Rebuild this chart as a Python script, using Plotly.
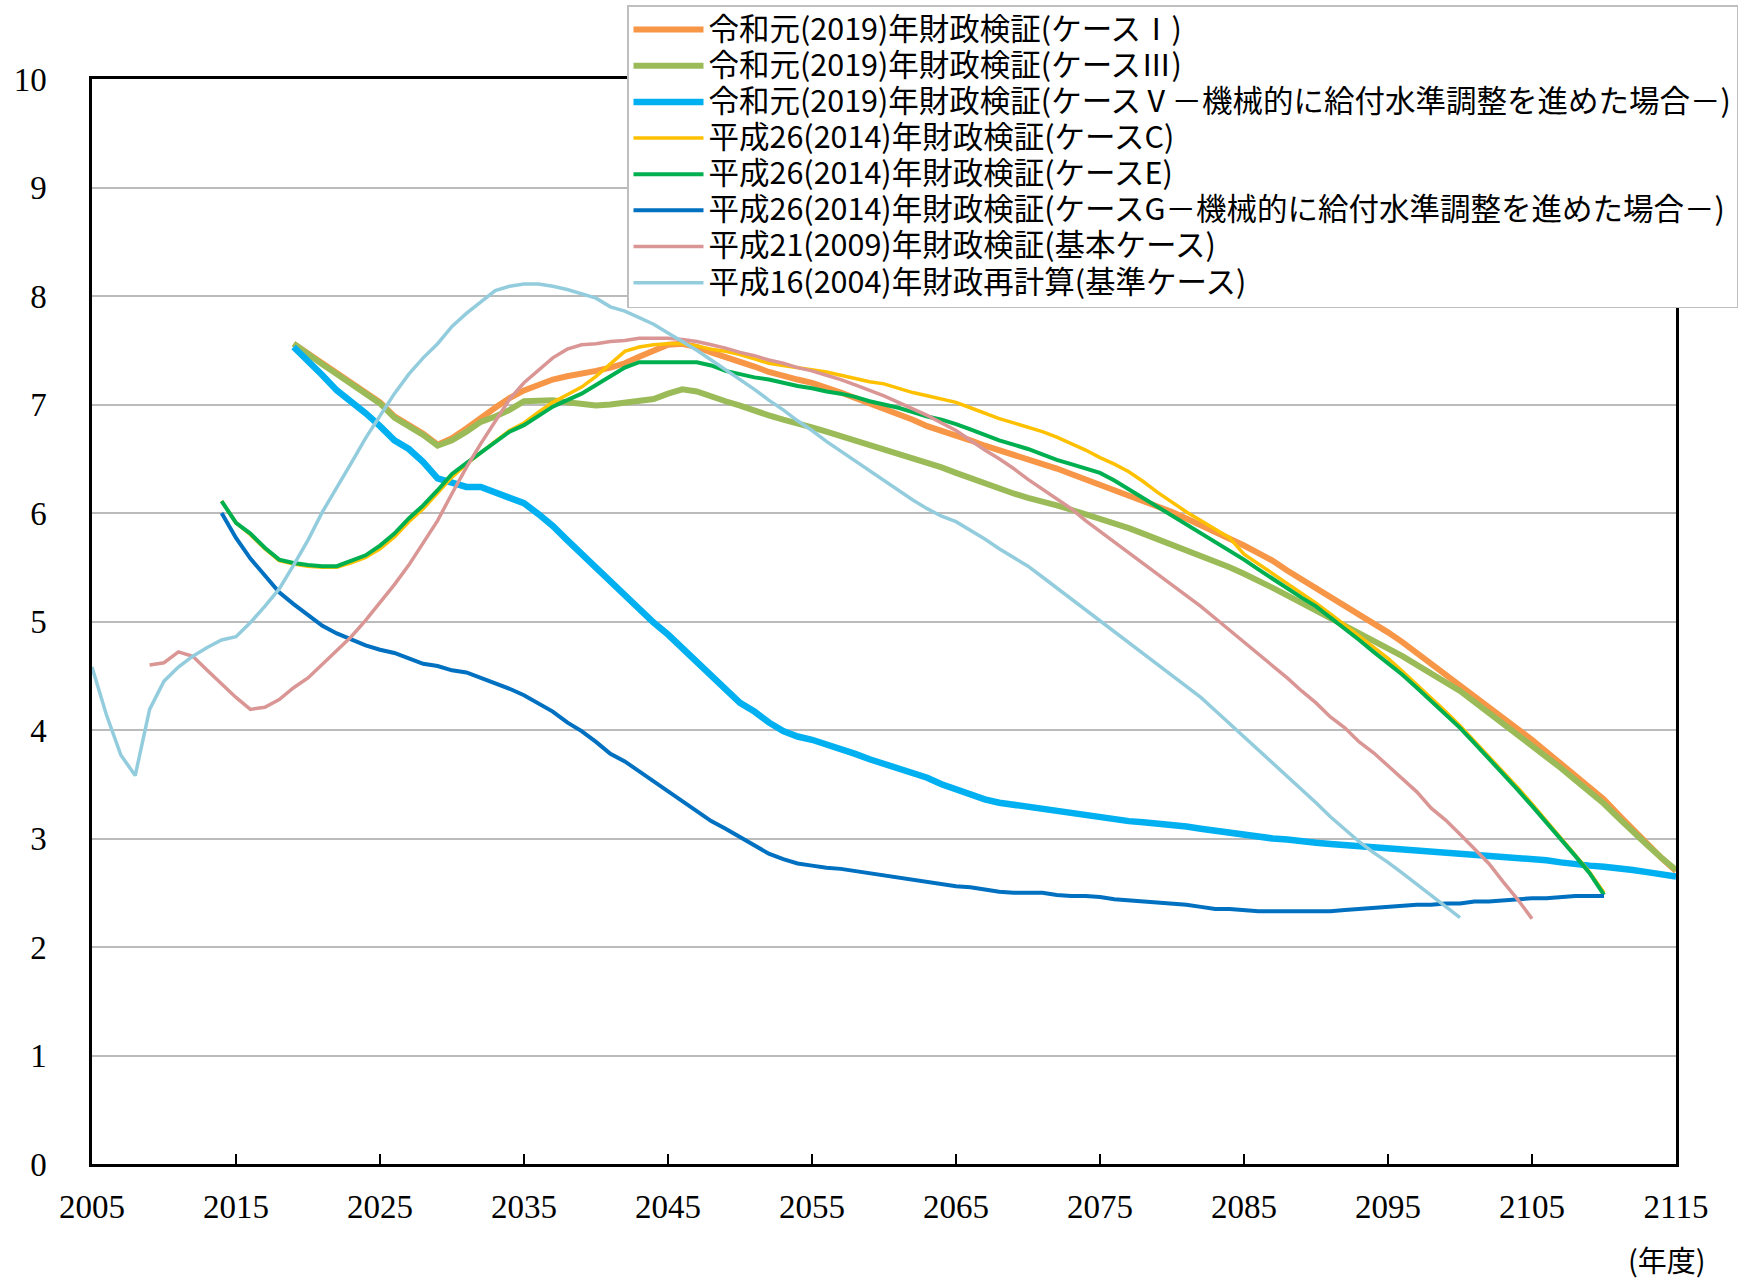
import plotly.graph_objects as go

# ---------------- data ----------------
series_names = [
    "令和元(2019)年財政検証(ケースⅠ)",
    "令和元(2019)年財政検証(ケースⅢ)",
    "令和元(2019)年財政検証(ケースⅤ－機械的に給付水準調整を進めた場合－)",
    "平成26(2014)年財政検証(ケースC)",
    "平成26(2014)年財政検証(ケースE)",
    "平成26(2014)年財政検証(ケースG－機械的に給付水準調整を進めた場合－)",
    "平成21(2009)年財政検証(基本ケース)",
    "平成16(2004)年財政再計算(基準ケース)",
]

years_r1 = list(range(2019, 2116))
case_I = [7.56, 7.47, 7.38, 7.29, 7.20, 7.11, 7.02, 6.89, 6.81, 6.73,
          6.63, 6.69, 6.78, 6.88, 6.97, 7.06, 7.13, 7.18, 7.23, 7.26,
          7.28, 7.31, 7.34, 7.38, 7.44, 7.50, 7.55, 7.56, 7.53, 7.48,
          7.44, 7.40, 7.35, 7.30, 7.26, 7.23, 7.20, 7.16, 7.11, 7.06,
          7.01, 6.97, 6.92, 6.86, 6.80, 6.76, 6.72, 6.67, 6.62, 6.58,
          6.54, 6.50, 6.46, 6.41, 6.36, 6.31, 6.27, 6.22, 6.17, 6.12,
          6.07, 6.01, 5.95, 5.89, 5.83, 5.76, 5.70, 5.63, 5.56, 5.47,
          5.39, 5.31, 5.23, 5.15, 5.07, 4.99, 4.90, 4.81, 4.71, 4.62,
          4.52, 4.42, 4.32, 4.22, 4.11, 4.01, 3.91, 3.80, 3.69, 3.58,
          3.47, 3.36, 3.22, 3.08, 2.95, 2.82, 2.70]
case_III = [7.56, 7.46, 7.37, 7.28, 7.19, 7.10, 7.01, 6.88, 6.80, 6.72,
            6.62, 6.67, 6.75, 6.84, 6.89, 6.95, 7.03, 7.04, 7.04, 7.02,
            7.00, 6.99, 7.00, 7.02, 7.03, 7.05, 7.10, 7.14, 7.12, 7.07,
            7.03, 6.99, 6.94, 6.90, 6.86, 6.83, 6.79, 6.75, 6.71, 6.67,
            6.63, 6.59, 6.55, 6.51, 6.47, 6.42, 6.37, 6.32, 6.27, 6.22,
            6.18, 6.14, 6.11, 6.07, 6.03, 5.99, 5.94, 5.90, 5.86, 5.81,
            5.76, 5.71, 5.66, 5.61, 5.55, 5.50, 5.44, 5.38, 5.31, 5.24,
            5.17, 5.10, 5.03, 4.96, 4.89, 4.82, 4.76, 4.68, 4.60, 4.52,
            4.44, 4.36, 4.26, 4.16, 4.06, 3.96, 3.86, 3.76, 3.65, 3.54,
            3.43, 3.32, 3.19, 3.06, 2.94, 2.82, 2.71]
case_V = [7.53, 7.41, 7.27, 7.13, 7.03, 6.92, 6.80, 6.67, 6.59, 6.47,
          6.32, 6.28, 6.24, 6.24, 6.19, 6.15, 6.09, 5.99, 5.88, 5.75,
          5.62, 5.49, 5.37, 5.24, 5.11, 4.99, 4.88, 4.75, 4.63, 4.50,
          4.37, 4.25, 4.17, 4.07, 3.99, 3.94, 3.91, 3.87, 3.82, 3.78,
          3.73, 3.69, 3.65, 3.61, 3.56, 3.50, 3.45, 3.41, 3.36, 3.33,
          3.31, 3.29, 3.27, 3.25, 3.23, 3.21, 3.20, 3.18, 3.16, 3.15,
          3.14, 3.13, 3.11, 3.09, 3.07, 3.05, 3.04, 3.02, 3.00, 2.99,
          2.97, 2.96, 2.95, 2.94, 2.93, 2.92, 2.91, 2.90, 2.89, 2.88,
          2.88, 2.87, 2.86, 2.85, 2.83, 2.82, 2.81, 2.80, 2.78, 2.76,
          2.75, 2.74, 2.73, 2.71, 2.69, 2.67, 2.65]

years_h26 = list(range(2014, 2111))
case_C = [6.11, 5.91, 5.80, 5.67, 5.56, 5.53, 5.51, 5.50, 5.50, 5.54,
          5.59, 5.67, 5.78, 5.92, 6.04, 6.18, 6.33, 6.45, 6.56, 6.66,
          6.76, 6.83, 6.93, 7.02, 7.09, 7.16, 7.26, 7.38, 7.49, 7.53,
          7.55, 7.56, 7.56, 7.54, 7.51, 7.49, 7.46, 7.42, 7.38, 7.36,
          7.34, 7.32, 7.30, 7.27, 7.24, 7.21, 7.19, 7.15, 7.11, 7.08,
          7.05, 7.02, 6.97, 6.92, 6.87, 6.83, 6.79, 6.75, 6.70, 6.64,
          6.58, 6.51, 6.45, 6.38, 6.29, 6.19, 6.10, 6.01, 5.93, 5.85,
          5.77, 5.62, 5.53, 5.44, 5.35, 5.26, 5.17, 5.07, 4.97, 4.86,
          4.76, 4.66, 4.54, 4.42, 4.30, 4.17, 4.04, 3.90, 3.76, 3.62,
          3.47, 3.32, 3.16, 3.00, 2.85, 2.69, 2.50]
case_E = [6.11, 5.91, 5.81, 5.68, 5.57, 5.54, 5.52, 5.51, 5.51, 5.56,
          5.61, 5.70, 5.81, 5.95, 6.07, 6.21, 6.36, 6.46, 6.56, 6.65,
          6.75, 6.81, 6.90, 6.98, 7.04, 7.10, 7.18, 7.26, 7.34, 7.39,
          7.39, 7.39, 7.39, 7.39, 7.36, 7.31, 7.28, 7.25, 7.23, 7.20,
          7.17, 7.15, 7.12, 7.10, 7.07, 7.03, 7.00, 6.97, 6.93, 6.89,
          6.86, 6.82, 6.77, 6.72, 6.67, 6.63, 6.59, 6.54, 6.49, 6.45,
          6.41, 6.37, 6.30, 6.22, 6.14, 6.06, 5.98, 5.90, 5.82, 5.74,
          5.65, 5.57, 5.48, 5.39, 5.30, 5.22, 5.14, 5.04, 4.94, 4.83,
          4.72, 4.62, 4.51, 4.39, 4.27, 4.15, 4.02, 3.88, 3.74, 3.60,
          3.45, 3.30, 3.15, 2.99, 2.84, 2.68, 2.48]
case_G = [6.00, 5.77, 5.58, 5.43, 5.27, 5.16, 5.06, 4.96, 4.89, 4.83,
          4.78, 4.74, 4.71, 4.66, 4.61, 4.59, 4.55, 4.53, 4.48, 4.43,
          4.38, 4.32, 4.24, 4.17, 4.07, 3.99, 3.89, 3.78, 3.71, 3.62,
          3.52, 3.43, 3.34, 3.25, 3.16, 3.09, 3.01, 2.93, 2.86, 2.81,
          2.77, 2.75, 2.73, 2.72, 2.70, 2.68, 2.66, 2.64, 2.62, 2.60,
          2.58, 2.56, 2.55, 2.53, 2.51, 2.50, 2.50, 2.50, 2.48, 2.47,
          2.47, 2.46, 2.44, 2.43, 2.42, 2.41, 2.40, 2.39, 2.37, 2.35,
          2.35, 2.34, 2.33, 2.33, 2.33, 2.33, 2.33, 2.33, 2.34, 2.35,
          2.36, 2.37, 2.38, 2.39, 2.39, 2.40, 2.40, 2.42, 2.42, 2.43,
          2.44, 2.45, 2.45, 2.46, 2.47, 2.47, 2.47]

years_h21 = list(range(2009, 2106))
case_h21 = [4.60, 4.62, 4.72, 4.68, 4.55, 4.42, 4.30, 4.19, 4.21, 4.28,
            4.39, 4.48, 4.61, 4.73, 4.86, 5.01, 5.17, 5.34, 5.52, 5.73,
            5.93, 6.18, 6.42, 6.64, 6.85, 7.05, 7.20, 7.31, 7.43, 7.51,
            7.55, 7.56, 7.58, 7.59, 7.61, 7.61, 7.61, 7.60, 7.58, 7.55,
            7.52, 7.48, 7.45, 7.41, 7.38, 7.34, 7.31, 7.27, 7.23, 7.18,
            7.13, 7.08, 7.02, 6.96, 6.90, 6.83, 6.76, 6.67, 6.58, 6.50,
            6.41, 6.31, 6.22, 6.13, 6.04, 5.93, 5.83, 5.73, 5.63, 5.53,
            5.44, 5.34, 5.24, 5.14, 5.03, 4.92, 4.81, 4.71, 4.60, 4.48,
            4.36, 4.25, 4.12, 4.02, 3.89, 3.79, 3.67, 3.55, 3.43, 3.28,
            3.17, 3.04, 2.91, 2.77, 2.60, 2.44, 2.26]

years_h16 = list(range(2005, 2101))
case_h16 = [4.58, 4.14, 3.77, 3.58, 4.19, 4.45, 4.58, 4.68, 4.76, 4.83,
            4.86, 4.99, 5.14, 5.30, 5.52, 5.75, 6.01, 6.23, 6.46, 6.69,
            6.90, 7.10, 7.28, 7.43, 7.56, 7.72, 7.84, 7.95, 8.05, 8.09,
            8.11, 8.11, 8.09, 8.06, 8.02, 7.98, 7.90, 7.86, 7.80, 7.74,
            7.66, 7.58, 7.50, 7.41, 7.32, 7.23, 7.14, 7.04, 6.95, 6.85,
            6.76, 6.66, 6.57, 6.48, 6.39, 6.30, 6.21, 6.12, 6.04, 5.97,
            5.92, 5.84, 5.76, 5.67, 5.59, 5.51, 5.41, 5.31, 5.21, 5.10,
            5.00, 4.90, 4.80, 4.70, 4.60, 4.51, 4.41, 4.30, 4.18, 4.06,
            3.94, 3.82, 3.70, 3.57, 3.45, 3.33, 3.20, 3.08, 2.97, 2.87,
            2.78, 2.68, 2.58, 2.47, 2.37, 2.27]

x_tick_vals = list(range(2005, 2116, 10))
y_tick_vals = list(range(0, 11))
x_unit_label = "(年度)"

# ---------------- styling ----------------
W, H = 1742, 1280
ML, MT, PW, PH = 92, 79, 1584, 1085
series_x = [years_r1, years_r1, years_r1, years_h26, years_h26, years_h26, years_h21, years_h16]
series_y = [case_I, case_III, case_V, case_C, case_E, case_G, case_h21, case_h16]
colors = ["#F79646", "#9BBB59", "#00B0F0", "#FFC000", "#00B050", "#0070C0", "#D99694", "#93CDDD"]
widths = [6, 6, 6.5, 3.5, 4, 4, 3.5, 3.5]

fig = go.Figure()
for name, xs, ys, c, w in zip(series_names, series_x, series_y, colors, widths):
    fig.add_trace(go.Scatter(
        x=xs, y=ys, mode="lines",
        name='<span style="font-size:30.5px">' + name + '</span>',
        line=dict(color=c, width=w)))

fig.update_layout(
    width=W, height=H,
    margin=dict(l=ML, r=W - ML - PW, t=MT, b=H - MT - PH, autoexpand=False),
    paper_bgcolor="white", plot_bgcolor="white",
    showlegend=True,
    legend=dict(
        x=(627 - ML) / PW, y=1 + (MT - 5) / PH, xanchor="left", yanchor="top",
        bgcolor="white", bordercolor="#BFBFBF", borderwidth=1.5,
        font=dict(family="Noto Sans CJK JP", size=25.5, color="black"),
        itemwidth=70, tracegroupgap=0,
    ),
    annotations=[dict(
        text=x_unit_label, xref="paper", yref="paper",
        x=(1667 - ML) / PW, y=(MT + PH - 1259) / PH,
        xanchor="center", yanchor="middle", showarrow=False,
        font=dict(family="Noto Sans CJK JP", size=29, color="black"),
    )],
)

fig.update_xaxes(
    range=[2005, 2115], tickvals=x_tick_vals, automargin=False,
    showgrid=False, zeroline=False,
    showline=True, linecolor="black", linewidth=2.5, mirror=True,
    ticks="inside", ticklen=10, tickwidth=1.5, tickcolor="black",
    ticklabelstandoff=12,
    tickfont=dict(family="Liberation Serif", size=33, color="black"),
)
fig.update_yaxes(
    range=[0, 10], tickvals=y_tick_vals, automargin=False,
    showgrid=True, gridcolor="#BBBBBB", gridwidth=2, zeroline=False,
    showline=True, linecolor="black", linewidth=2.5, mirror=True,
    ticks="", ticklabelstandoff=36,
    tickfont=dict(family="Liberation Serif", size=33, color="black"),
)

fig.write_html("out.html", config={"displayModeBar": False},
               post_script="document.body.style.margin='0px';")
